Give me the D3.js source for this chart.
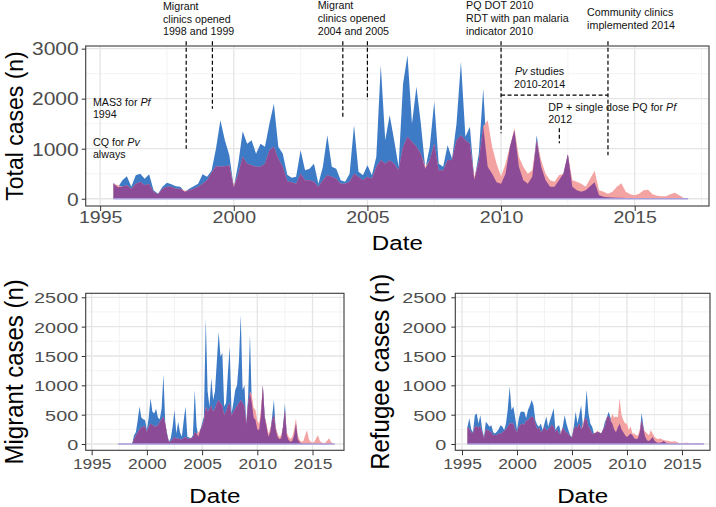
<!DOCTYPE html>
<html><head><meta charset="utf-8">
<script src="https://cdn.jsdelivr.net/npm/d3@7"></script>
<style>body{margin:0;background:#fff}svg{display:block}</style>
</head><body><svg id="c" width="716" height="507"></svg>
<script>
// ---- time grid (bi-monthly samples) ----
const startYear = 1995.5;
const stepYears = 1 / 6;

// ---- Total cases (top panel) ----
const totalPv = [
 320, 230, 370,
 450, 240, 470, 500, 400, 490,
 170, 100, 240, 320, 290, 250,
 240, 140, 200, 250, 300, 490,
 440, 560, 1000, 1570, 1170, 870,
 230, 700, 1350, 1100, 1170, 900,
 1100, 1040, 1500, 1900, 1040, 900,
 480, 420, 440, 970, 570, 600,
 700, 300, 640, 1270, 640, 600,
 370, 340, 500, 1470, 540, 470,
 670, 470, 840, 2670, 1170, 1670,
 1170, 640, 2300, 2870, 1500, 2240,
 1500, 600, 1040, 1940, 700, 640,
 1070, 800, 1500, 2740, 1240, 1440,
 380, 900, 2200, 640, 500, 330,
 300, 500, 1040, 1370, 640, 370,
 300, 440, 1270, 640, 370, 240,
 240, 370, 500, 890, 240, 170,
 140, 170, 250, 330, 70, 40,
 30, 25, 20, 20, 15, 10,
 10, 10, 8, 8, 5, 5,
 5, 5, 3, 3, 2, 0,
 0];
const totalPf = [
 300, 270, 240,
 270, 200, 300, 340, 270, 300,
 140, 90, 200, 240, 240, 200,
 200, 160, 170, 200, 240, 300,
 370, 520, 650, 640, 650, 670,
 260, 500, 840, 700, 670, 640,
 640, 700, 970, 1040, 800, 640,
 350, 330, 300, 500, 370, 370,
 340, 240, 370, 470, 440, 400,
 300, 300, 340, 500, 440, 370,
 440, 400, 640, 770, 700, 770,
 700, 570, 1040, 1240, 1140, 1040,
 900, 640, 770, 1100, 570, 570,
 770, 780, 1170, 1270, 1170, 1100,
 440, 750, 1450, 1570, 1040, 700,
 450, 700, 1050, 1410, 840, 640,
 500, 570, 1170, 770, 500, 370,
 340, 470, 500, 890, 370, 340,
 300, 240, 400, 560, 170, 140,
 100, 140, 240, 310, 140, 90,
 70, 100, 170, 180, 90, 60,
 50, 50, 90, 120, 70, 15,
 0];

// ---- Migrant cases (bottom left) ----
const migrantPv = [
 0, 0, 0,
 0, 0, 0, 0, 0, 0,
 0, 0, 0, 0, 0, 0,
 0, 0, 0, 0, 0, 150,
 200, 400, 640, 450, 420, 410,
 240, 450, 780, 550, 520, 600,
 450, 420, 600, 1180, 350, 180,
 40, 100, 300, 580, 180, 380,
 200, 125, 400, 640, 125, 110,
 100, 150, 920, 300, 125, 240,
 350, 470, 2140, 900, 640, 1120,
 750, 900, 1400, 1910, 1490, 1550,
 640, 700, 1200, 1660, 520, 700,
 920, 1000, 1400, 2200, 920, 1000,
 350, 800, 1860, 700, 450, 410,
 250, 240, 500, 1000, 500, 300,
 125, 200, 450, 750, 250, 125,
 80, 100, 300, 690, 150, 70,
 40, 50, 150, 350, 80, 30,
 10, 5, 5, 5, 3, 3,
 2, 2, 2, 2, 1, 1,
 1, 1, 0, 0, 0, 0,
 0];
const migrantPf = [
 0, 0, 0,
 0, 0, 0, 0, 0, 0,
 0, 0, 0, 0, 0, 0,
 0, 0, 0, 0, 0, 80,
 150, 200, 250, 280, 300, 300,
 200, 300, 350, 330, 300, 300,
 320, 380, 420, 470, 350, 150,
 30, 50, 80, 120, 90, 100,
 80, 80, 100, 120, 90, 90,
 100, 120, 200, 180, 200, 240,
 300, 400, 640, 550, 600, 650,
 550, 600, 700, 750, 700, 650,
 500, 550, 650, 700, 480, 550,
 600, 650, 700, 750, 700, 650,
 330, 700, 890, 850, 620, 580,
 400, 350, 600, 1000, 450, 350,
 180, 250, 400, 500, 300, 180,
 120, 150, 300, 580, 200, 125,
 90, 120, 250, 440, 150, 70,
 40, 50, 150, 240, 80, 40,
 25, 40, 100, 150, 50, 25,
 15, 20, 60, 100, 40, 10,
 0];

// ---- Refugee cases (bottom right) ----
const refugeePv = [
 295, 440, 250,
 200, 490, 520, 350, 490, 250,
 125, 380, 340, 295, 320, 200,
 180, 210, 250, 320, 300, 240,
 350, 600, 980, 580, 640, 450,
 240, 440, 550, 550, 550, 440,
 580, 650, 750, 660, 410, 330,
 295, 350, 240, 350, 470, 295,
 400, 500, 610, 240, 300, 320,
 180, 300, 490, 350, 240, 150,
 125, 300, 550, 350, 500, 660,
 295, 500, 920, 520, 350, 295,
 180, 190, 210, 200, 180, 250,
 380, 450, 550, 450, 350, 250,
 200, 280, 350, 250, 200, 150,
 120, 150, 180, 150, 100, 80,
 100, 200, 530, 300, 120, 60,
 50, 80, 120, 60, 30, 20,
 20, 30, 50, 30, 10, 5,
 5, 3, 3, 2, 2, 1,
 1, 1, 1, 0, 0, 0,
 0, 0, 0, 0, 0, 0,
 0];
const refugeePf = [
 290, 260, 200,
 180, 300, 300, 280, 300, 200,
 100, 250, 230, 220, 200, 150,
 160, 150, 180, 170, 200, 220,
 250, 300, 350, 350, 350, 250,
 200, 300, 330, 350, 330, 400,
 400, 450, 470, 450, 350, 250,
 280, 200, 230, 300, 230, 250,
 280, 330, 300, 200, 250, 170,
 200, 280, 230, 200, 170, 130,
 110, 250, 300, 280, 350, 250,
 350, 440, 420, 300, 250, 180,
 180, 200, 230, 190, 180, 250,
 300, 450, 480, 400, 520, 450,
 470, 450, 780, 500, 410, 350,
 350, 240, 300, 180, 180, 150,
 150, 250, 410, 250, 210, 180,
 150, 240, 180, 125, 100, 80,
 100, 80, 70, 60, 57, 50,
 45, 40, 50, 35, 20, 15,
 10, 15, 23, 20, 10, 5,
 5, 8, 10, 11, 5, 3,
 0];

// ---- ticks ----
const xTicks = [1995, 2000, 2005, 2010, 2015];
const xMinor = [1997.5, 2002.5, 2007.5, 2012.5, 2017.5];
const topYTicks = [0, 1000, 2000, 3000];
const topYMinor = [500, 1500, 2500];
const botYTicks = [0, 500, 1000, 1500, 2000, 2500];
const botYMinor = [250, 750, 1250, 1750, 2250];

// ---- annotations (top panel, in data units) ----
const annotTexts = [
  {t: 1997.35, v: 3775, anchor: "start", lines: ["Migrant", "clinics opened", "1998 and 1999"]},
  {t: 2003.14, v: 3790, anchor: "start", lines: ["Migrant", "clinics opened", "2004 and 2005"]},
  {t: 2008.69, v: 3790, anchor: "start", lines: ["PQ DOT 2010", "RDT with pan malaria", "indicator 2010"]},
  {t: 2013.22, v: 3655, anchor: "start", lines: ["Community clinics", "implemented 2014"]},
  {t: 2011.44, v: 2475, anchor: "middle", lines: ["*Pv* studies", "2010-2014"]},
  {t: 2011.77, v: 1761, anchor: "start", lines: ["DP + single dose PQ for *Pf*", "2012"]},
  {t: 1994.73, v: 1861, anchor: "start", lines: ["MAS3 for *Pf*", "1994"]},
  {t: 1994.73, v: 1061, anchor: "start", lines: ["CQ for *Pv*", "always"]}
];
const annotDashes = [
  {t1: 1998.22, v1: 3150, t2: 1998.22, v2: 1000},
  {t1: 1999.2,  v1: 3150, t2: 1999.2,  v2: 1800},
  {t1: 2004.08, v1: 3150, t2: 2004.08, v2: 1590},
  {t1: 2005.0,  v1: 3150, t2: 2005.0,  v2: 1975},
  {t1: 2010.0,  v1: 3150, t2: 2010.0,  v2: 1310},
  {t1: 2014.0,  v1: 3150, t2: 2014.0,  v2: 870},
  {t1: 2010.0,  v1: 2070, t2: 2014.0,  v2: 2070},
  {t1: 2012.18, v1: 1408, t2: 2012.18, v2: 1108}
];

// ================= drawing =================
const FONT = '"Liberation Sans", Arial, Helvetica, sans-serif';
const COL = {pv: "#3d7bc6", pf: "#f4a3a3", both: "#8b4b97", base: "#a99cdb"};
const svg = d3.select("#c");

function stext(str, x, y, size, sx, anchor, rot, color) {
  return svg.append("text")
    .attr("transform", `translate(${x},${y}) scale(${sx},1)` + (rot ? ` rotate(${rot})` : ""))
    .attr("text-anchor", anchor || "middle")
    .style("font-family", FONT).style("font-size", size + "px")
    .attr("fill", color || "#000").text(str);
}

function drawPanel(p) {
  const g = svg.append("g");
  const x = d3.scaleLinear().domain(p.xDomain).range([p.L, p.R]);
  const y = d3.scaleLinear().domain(p.yDomain).range([p.B, p.T]);
  const inX = v => x(v) > p.L && x(v) < p.R;

  g.append("rect").attr("x", p.L).attr("y", p.T).attr("width", p.R - p.L).attr("height", p.B - p.T).attr("fill", "#fff");
  const grid = (cls, data, vertical, color, w) => g.selectAll("line." + cls).data(data).join("line").attr("class", cls)
    .attr("x1", d => vertical ? x(d) : p.L).attr("x2", d => vertical ? x(d) : p.R)
    .attr("y1", d => vertical ? p.T : y(d)).attr("y2", d => vertical ? p.B : y(d))
    .attr("stroke", color).attr("stroke-width", w);
  grid("xmin", xMinor.filter(inX), true, "#f0f0f0", 0.8);
  grid("ymin", p.yMinor, false, "#f0f0f0", 0.8);
  grid("xmaj", xTicks.filter(inX), true, "#e5e5e5", 1.3);
  grid("ymaj", p.yTicks, false, "#e5e5e5", 1.3);

  const n = Math.min(p.pv.length, p.pf.length);
  const idx = d3.range(n);
  const dateAt = i => startYear + i * stepYears;
  const area = vals => d3.area().x(i => x(dateAt(i))).y0(y(0)).y1(i => y(vals[i]))(idx);
  g.append("path").attr("d", area(p.pv)).attr("fill", COL.pv);
  g.append("path").attr("d", area(p.pf)).attr("fill", COL.pf);
  const both = idx.map(i => Math.min(p.pv[i], p.pf[i]));
  g.append("path").attr("d", area(both)).attr("fill", COL.both);
  g.append("line").attr("x1", x(p.baseFrom)).attr("x2", x(dateAt(n - 1))).attr("y1", y(0)).attr("y2", y(0))
    .attr("stroke", COL.base).attr("stroke-width", 1.3);

  g.append("rect").attr("x", p.L).attr("y", p.T).attr("width", p.R - p.L).attr("height", p.B - p.T)
    .attr("fill", "none").attr("stroke", "#3a3a3a").attr("stroke-width", 1.1);

  const ya = d3.axisLeft(y).tickValues(p.yTicks).tickSize(4).tickFormat(d3.format("d"));
  const yg = g.append("g").attr("transform", `translate(${p.L},0)`).call(ya);
  yg.select(".domain").remove();
  yg.selectAll(".tick line").attr("stroke", "#333").attr("stroke-width", 1);
  yg.selectAll(".tick text").attr("x", 0).attr("dy", "0.36em").attr("fill", "#4d4d4d")
    .style("font-size", p.yFont + "px").style("font-family", FONT).attr("text-anchor", "end")
    .attr("transform", `translate(${-p.yGap},0) scale(${p.ySx},1)`);

  const xa = d3.axisBottom(x).tickValues(xTicks).tickSize(5).tickFormat(d3.format("d"));
  const xg = g.append("g").attr("transform", `translate(0,${p.B})`).call(xa);
  xg.select(".domain").remove();
  xg.selectAll(".tick line").attr("stroke", "#333").attr("stroke-width", 1);
  xg.selectAll(".tick text").attr("y", 0).attr("dy", null).attr("fill", "#4d4d4d")
    .style("font-size", p.xFont + "px").style("font-family", FONT)
    .attr("transform", `translate(0,${p.xOff}) scale(${p.xSx},1)`);

  stext("Date", (p.L + p.R) / 2, p.xTitleY, 21, 1.15, "middle");
  stext(p.yTitle, p.yTitleX, (p.T + p.B) / 2, p.yTitleSize, 1.05, "middle", -90);
  return {x, y};
}

const topPanel = drawPanel({
  L: 85.7, R: 709, T: 46, B: 206, xDomain: [1994.46, 2017.78], yDomain: [-145, 3053],
  yTicks: topYTicks, yMinor: topYMinor, pv: totalPv, pf: totalPf, baseFrom: startYear,
  yFont: 17.5, ySx: 1.2, yGap: 7, xFont: 17, xSx: 1.15, xOff: 16.7,
  xTitleY: 250, yTitle: "Total cases (n)", yTitleX: 23, yTitleSize: 23
});
drawPanel({
  L: 85.7, R: 344, T: 293.3, B: 450.3, xDomain: [1994.46, 2017.85], yDomain: [-107, 2568],
  yTicks: botYTicks, yMinor: botYMinor, pv: migrantPv, pf: migrantPf, baseFrom: 1997.4,
  yFont: 15.5, ySx: 1.28, yGap: 7.5, xFont: 15.5, xSx: 1.12, xOff: 19,
  xTitleY: 503.3, yTitle: "Migrant cases (n)", yTitleX: 23, yTitleSize: 24
});
drawPanel({
  L: 455.3, R: 710, T: 293.3, B: 450.3, xDomain: [1994.39, 2017.55], yDomain: [-107, 2568],
  yTicks: botYTicks, yMinor: botYMinor, pv: refugeePv, pf: refugeePf, baseFrom: startYear,
  yFont: 15.5, ySx: 1.28, yGap: 9, xFont: 15.5, xSx: 1.12, xOff: 19,
  xTitleY: 503.3, yTitle: "Refugee cases (n)", yTitleX: 389, yTitleSize: 24
});

// annotations on top panel
const ag = svg.append("g");
ag.selectAll("line").data(annotDashes).join("line")
  .attr("x1", d => topPanel.x(d.t1)).attr("x2", d => topPanel.x(d.t2))
  .attr("y1", d => topPanel.y(d.v1)).attr("y2", d => topPanel.y(d.v2))
  .attr("stroke", "#000").attr("stroke-width", 1.2).attr("stroke-dasharray", "4,2.5");

annotTexts.forEach(a => {
  const t = svg.append("text")
    .attr("transform", `translate(${topPanel.x(a.t)},${topPanel.y(a.v)}) scale(1.07,1)`)
    .attr("text-anchor", a.anchor).style("font-family", FONT).style("font-size", "10px").attr("fill", "#111");
  a.lines.forEach((ln, li) => {
    const row = t.append("tspan").attr("x", 0).attr("dy", li === 0 ? 0 : 12.8);
    ln.split("*").forEach((seg, si) => {
      if (!seg) return;
      row.append("tspan").style("font-style", si % 2 ? "italic" : "normal").text(seg);
    });
  });
});
</script>
</body></html>
